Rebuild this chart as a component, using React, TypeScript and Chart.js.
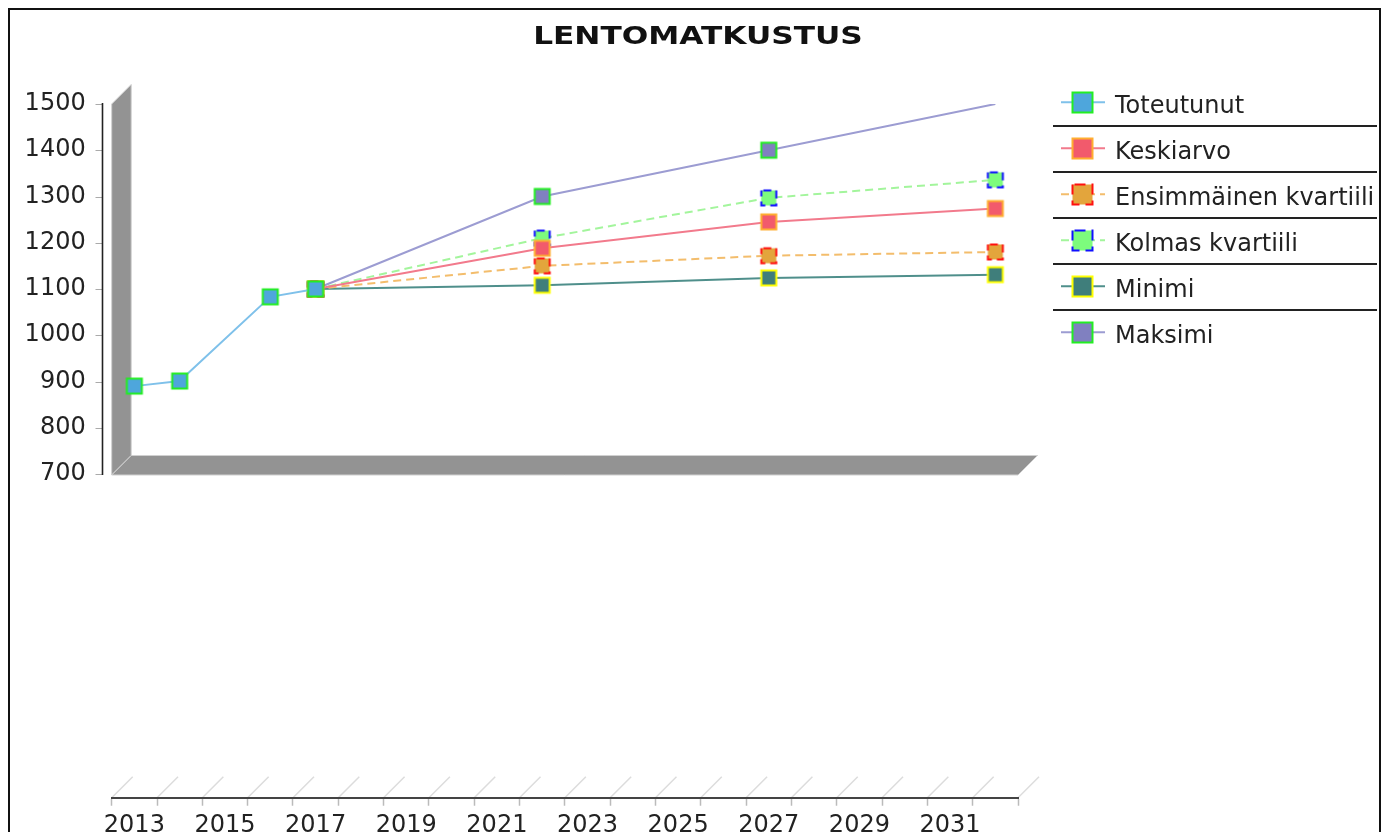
import { useEffect, useRef } from 'react';
import { Chart, registerables } from 'chart.js';

Chart.register(...registerables);

const chartTitle = 'LENTOMATKUSTUS';

const years = [
  '2013', '2014', '2015', '2016', '2017', '2018', '2019', '2020', '2021', '2022',
  '2023', '2024', '2025', '2026', '2027', '2028', '2029', '2030', '2031', '2032',
];
const xTickLabels = ['2013', '2015', '2017', '2019', '2021', '2023', '2025', '2027', '2029', '2031'];
const yTickValues = [700, 800, 900, 1000, 1100, 1200, 1300, 1400, 1500];

const seriesNames = ['Toteutunut', 'Keskiarvo', 'Ensimmäinen kvartiili', 'Kolmas kvartiili', 'Minimi', 'Maksimi'];

const toteutunut = [890, 901, null, 1083, 1100, null, null, null, null, null, null, null, null, null, null, null, null, null, null, null];
const keskiarvo = [null, null, null, null, 1100, null, null, null, null, 1188, null, null, null, null, 1245, null, null, null, null, 1274];
const ensimmainenKvartiili = [null, null, null, null, 1100, null, null, null, null, 1150, null, null, null, null, 1172, null, null, null, null, 1180];
const kolmasKvartiili = [null, null, null, null, 1100, null, null, null, null, 1210, null, null, null, null, 1297, null, null, null, null, 1336];
const minimi = [null, null, null, null, 1100, null, null, null, null, 1108, null, null, null, null, 1124, null, null, null, null, 1131];
const maksimi = [null, null, null, null, 1100, null, null, null, null, 1300, null, null, null, null, 1400, null, null, null, null, 1500];

const seriesValues = [toteutunut, keskiarvo, ensimmainenKvartiili, kolmasKvartiili, minimi, maksimi];

const lineColors = ['#7fc1ea', '#f27a8c', '#f3bd6c', '#a3f59c', '#4f8f8b', '#9c9cd2'];
const markerFills = ['#4ea6dc', '#f25a6c', '#e3a53c', '#7dfc7d', '#3f7e7b', '#8080c0'];
const markerBorders = ['#22ee22', '#ffae30', '#ff1010', '#1010ff', '#ffff00', '#22ee22'];
const dashedSeries = [false, false, true, true, false, false];

function makeMarker(size: number, fill: string, stroke: string, dashed: boolean) {
  const c = document.createElement('canvas');
  const s = size + 4;
  c.width = s;
  c.height = s;
  const ctx = c.getContext('2d')!;
  const o = 2.5;
  const w = s - 5;
  ctx.fillStyle = fill;
  ctx.fillRect(o, o, w, w);
  ctx.strokeStyle = stroke;
  ctx.lineWidth = 2;
  if (dashed) {
    ctx.setLineDash([Math.round(w * 0.55), Math.round(w * 0.3)]);
    ctx.lineDashOffset = -2;
  }
  ctx.strokeRect(o, o, w, w);
  return c;
}

export default function App() {
  const canvasRef = useRef<HTMLCanvasElement | null>(null);

  useEffect(() => {
    const canvas = canvasRef.current;
    if (!canvas) return;

    const plotMarkers = seriesNames.map((_, i) => makeMarker(16, markerFills[i], markerBorders[i], dashedSeries[i]));
    const legendMarkers = seriesNames.map((_, i) => makeMarker(21, markerFills[i], markerBorders[i], dashedSeries[i]));

    const depth = 19.5;

    const decorPlugin = {
      id: 'decor3d',
      beforeDraw(chart: any) {
        const { ctx, chartArea } = chart;
        const y = chart.scales.y;
        const L = chartArea.left;
        const R = chartArea.right;
        const T = y.getPixelForValue(1500);
        const B = y.getPixelForValue(700) + 1;
        ctx.save();
        // left wall
        ctx.fillStyle = '#939393';
        ctx.strokeStyle = '#d0d0d0';
        ctx.lineWidth = 1;
        ctx.beginPath();
        ctx.moveTo(L, T);
        ctx.lineTo(L + depth, T - depth);
        ctx.lineTo(L + depth, B - depth);
        ctx.lineTo(L, B);
        ctx.closePath();
        ctx.fill();
        ctx.stroke();
        // floor
        ctx.beginPath();
        ctx.moveTo(L, B);
        ctx.lineTo(R, B);
        ctx.lineTo(R + depth, B - depth);
        ctx.lineTo(L + depth, B - depth);
        ctx.closePath();
        ctx.fill();
        ctx.stroke();

        // diagonal floor lines above x axis
        const bottom = chartArea.bottom;
        const n = years.length;
        ctx.strokeStyle = '#dcdcdc';
        ctx.lineWidth = 1.5;
        for (let i = 0; i <= n; i++) {
          const x = L + (i * (R - L)) / n;
          ctx.beginPath();
          ctx.moveTo(x, bottom);
          ctx.lineTo(x + 21, bottom - 21);
          ctx.stroke();
        }

        // y axis line and tick marks
        const ax = 92.5;
        ctx.strokeStyle = '#aaaaaa';
        ctx.lineWidth = 1;
        yTickValues.forEach((v) => {
          const py = Math.round(y.getPixelForValue(v)) + 0.5;
          ctx.beginPath();
          ctx.moveTo(ax - 7, py);
          ctx.lineTo(ax, py);
          ctx.stroke();
        });
        ctx.strokeStyle = '#222222';
        ctx.lineWidth = 1.6;
        ctx.beginPath();
        ctx.moveTo(ax, T - 1);
        ctx.lineTo(ax, B);
        ctx.stroke();

        // title
        ctx.fillStyle = '#111111';
        ctx.font = 'bold 24px "DejaVu Sans"';
        ctx.textAlign = 'center';
        ctx.textBaseline = 'alphabetic';
        ctx.translate(688, 34.3);
        ctx.scale(1.3, 1);
        ctx.fillText(chartTitle, 0, 0);
        ctx.restore();
      },
      afterDraw(chart: any) {
        const { ctx } = chart;
        ctx.save();
        const startY = 92.2;
        const step = 46;
        seriesNames.forEach((name, i) => {
          const cy = startY + i * step;
          ctx.strokeStyle = lineColors[i];
          ctx.lineWidth = 2;
          ctx.setLineDash(dashedSeries[i] ? [8, 5] : []);
          ctx.beginPath();
          ctx.moveTo(1051, cy);
          ctx.lineTo(1095, cy);
          ctx.stroke();
          ctx.setLineDash([]);
          const m = legendMarkers[i];
          ctx.drawImage(m, Math.round(1072 - m.width / 2), Math.round(cy - m.height / 2));
          ctx.fillStyle = '#222222';
          ctx.font = '24px "DejaVu Sans"';
          ctx.textAlign = 'left';
          ctx.textBaseline = 'alphabetic';
          ctx.fillText(name, 1105, cy + 10.5);
          if (i < seriesNames.length - 1) {
            ctx.strokeStyle = '#222222';
            ctx.lineWidth = 2;
            ctx.beginPath();
            ctx.moveTo(1043, Math.round(cy + 23.8));
            ctx.lineTo(1367, Math.round(cy + 23.8));
            ctx.stroke();
          }
        });
        ctx.restore();
      },
    };

    const datasets = seriesNames.map((name, i) => ({
      label: name,
      data: seriesValues[i],
      borderColor: lineColors[i],
      backgroundColor: markerFills[i],
      borderWidth: 2,
      borderDash: dashedSeries[i] ? [8, 5] : [],
      pointStyle: plotMarkers[i],
      pointRadius: seriesValues[i].map((v, j) => (v === null ? 0 : i === 5 && j === years.length - 1 ? 0 : 8)),
      pointHoverRadius: 8,
      spanGaps: true,
      tension: 0,
      fill: false,
    }));

    const chart = new Chart(canvas, {
      type: 'line',
      data: { labels: years, datasets },
      options: {
        animation: false,
        responsive: true,
        maintainAspectRatio: false,
        layout: { padding: { top: 94, left: 0, right: 361, bottom: 0 } },
        plugins: {
          legend: { display: false },
          title: { display: false },
          tooltip: { enabled: false },
        },
        scales: {
          x: {
            type: 'category',
            offset: true,
            grid: {
              offset: true,
              drawOnChartArea: false,
              drawTicks: true,
              tickLength: 8,
              tickColor: '#bbbbbb',
              tickWidth: 1.5,
            },
            border: { display: true, color: '#444444', width: 2 },
            ticks: {
              autoSkip: false,
              maxRotation: 0,
              minRotation: 0,
              padding: 6,
              color: '#222222',
              font: { family: '"DejaVu Sans"', size: 24 },
              callback: (_v: any, idx: number) => (xTickLabels.includes(years[idx]) ? years[idx] : ''),
            },
            afterFit: (scale: any) => {
              scale.height = 42.25;
            },
          },
          y: {
            type: 'linear',
            min: 0,
            max: 1500,
            grid: { display: false, drawTicks: false },
            border: { display: false },
            ticks: {
              padding: 26,
              color: '#222222',
              font: { family: '"DejaVu Sans"', size: 24 },
              callback: (v: any) => String(v),
            },
            afterBuildTicks: (scale: any) => {
              scale.ticks = yTickValues.map((v) => ({ value: v }));
            },
            afterFit: (scale: any) => {
              scale.width = 101.7;
            },
          },
        },
      },
      plugins: [decorPlugin],
    });

    return () => chart.destroy();
  }, []);

  return (
    <div
      style={{
        position: 'relative',
        marginBottom: -8,
        height: 830,
        borderTop: '2px solid #111',
        borderLeft: '2px solid #111',
        borderRight: '2px solid #111',
        background: '#fff',
      }}
    >
      <canvas ref={canvasRef} />
    </div>
  );
}
